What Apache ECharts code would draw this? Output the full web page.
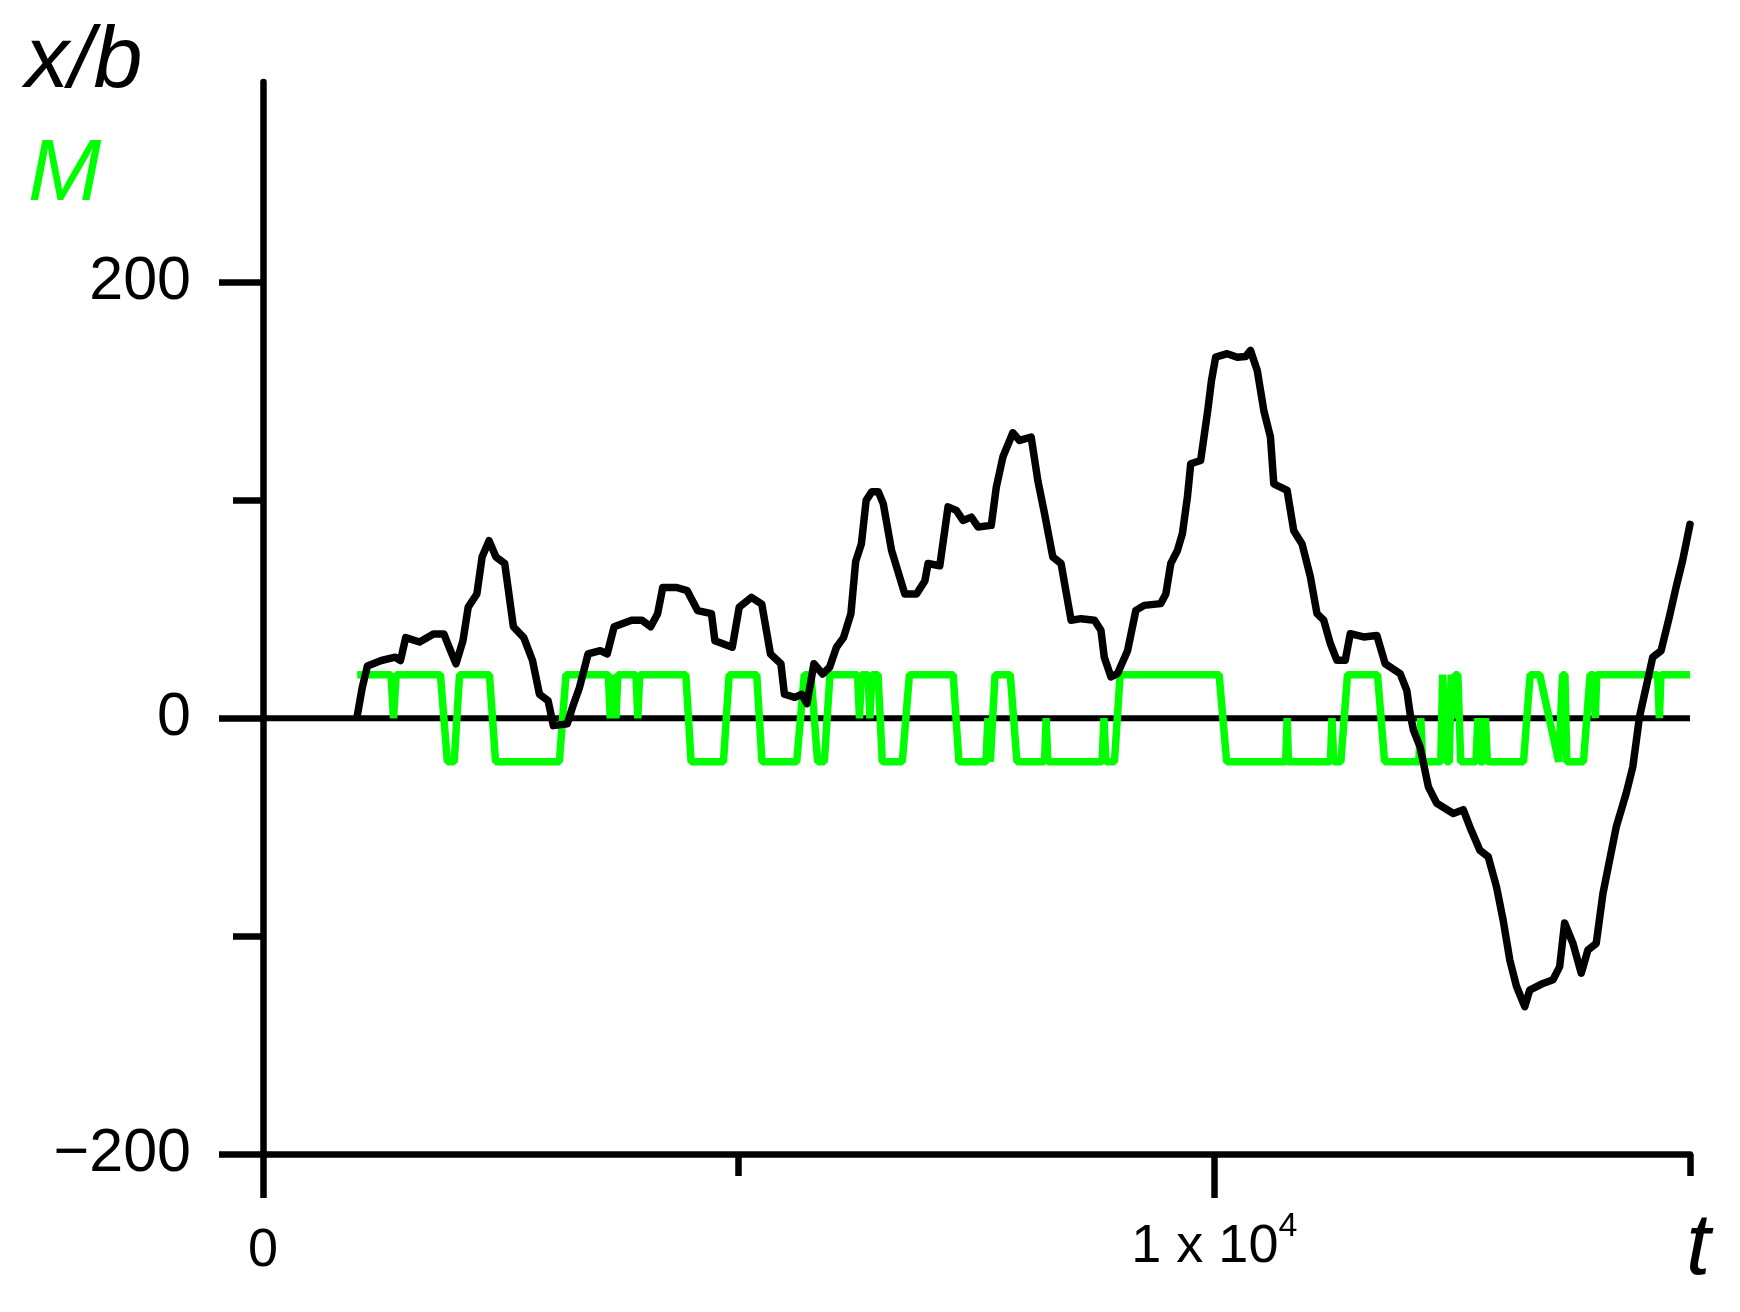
<!DOCTYPE html>
<html>
<head>
<meta charset="utf-8">
<script src="https://cdn.jsdelivr.net/npm/echarts@6/dist/echarts.min.js"></script>
<style>
html,body{margin:0;padding:0;background:#fff;}
#chart{width:1740px;height:1312px;}
</style>
</head>
<body>
<div id="chart"></div>
<script>
// ---- data (t, x/b) of the black trajectory ----
const trace = [
 [988,0.5],[1043,14],[1098,24],[1244,26.5],[1390,28],[1445,26.5],[1500,37],[1646,35],[1792,38.7],[1901,38.7],
 [1956,32.6],[2029,25],[2102,35.6],[2157,51],[2248,57],[2303,74],[2376,81.5],[2449,74],[2541,71],[2632,42],
 [2741,37],[2833,26.5],[2906,11],[2997,8],[3052,-3.4],[3198,-2.6],[3253,5],[3326,14],[3417,29.5],[3545,31],
 [3618,29.5],[3691,42],[3874,45],[3983,45],[4075,42],[4148,48],[4202,60],[4349,60],[4458,58.6],[4568,49.4],
 [4714,48],[4750,35.6],[4933,32.6],[5006,51],[5134,55.5],[5243,52.4],[5334,29.5],[5444,25],[5481,11],[5590,9.6],
 [5663,11],[5718,6.7],[5791,25],[5883,20.3],[5956,23.4],[6028,32.6],[6102,37],[6180,48],[6230,72],[6290,80],
 [6340,100],[6400,104],[6467,104],[6520,98.5],[6607,77],[6747,57],[6869,57],[6957,63],[6991,71],[7114,70],
 [7201,97],[7288,95.4],[7358,90.8],[7446,92.3],[7516,87.8],[7655,88.5],[7708,106],[7778,120],[7882,131],[7952,127.5],
 [8075,129],[8145,109],[8215,94],[8302,74],[8389,71],[8494,45],[8599,45.7],[8739,45],[8808,40.4],[8843,28],
 [8913,19],[8983,20.5],[9088,31],[9175,49.5],[9263,51.8],[9437,52.6],[9490,57],[9542,71],[9612,77],[9664,84.7],
 [9717,101.5],[9752,116.8],[9856,118.3],[9891,129],[9930,141],[9970,155],[10014,165.7],[10136,167.3],[10241,165.7],[10328,166],
 [10380,168.8],[10451,159.6],[10521,141],[10590,129],[10625,107.6],[10765,104.6],[10835,86],[10922,80],[11009,65],[11079,48],
 [11150,45],[11219,34.3],[11289,26.6],[11376,26.6],[11429,38.8],[11569,37.3],[11708,38],[11796,25],[11953,20.5],[12023,12.8],
 [12058,2],[12093,-5.5],[12163,-13.2],[12250,-31.5],[12338,-39],[12512,-43.7],[12617,-42],[12687,-50],[12791,-60.6],[12879,-63.6],
 [12966,-77.4],[13036,-92.7],[13106,-111],[13176,-123],[13263,-132.4],[13315,-124.8],[13455,-121.7],[13560,-120],[13630,-114],[13682,-94],
 [13770,-103.4],[13857,-117],[13927,-106.4],[14014,-103.4],[14085,-80.4],[14224,-50],[14329,-34.5],[14399,-22.3],[14469,0.6],[14539,14.4],
 [14608,28],[14696,31],[14783,46.5],[14853,60],[14923,72.5],[15000,89]
];
// ---- data (t, M) of the green three-state signal ----
const signalM = [
 [990,1],[1345,1],[1372,0],[1400,1],[1865,1],[1938,-1],[2010,-1],[2066,1],[2380,1],[2445,-1],
 [3115,-1],[3185,1],[3630,1],[3650,0],[3670,1],[3690,1],[3710,0],[3730,1],[3920,1],[3940,0],
 [3960,1],[4445,1],[4500,-1],[4840,-1],[4900,1],[5190,1],[5245,-1],[5610,-1],[5690,1],[5760,1],
 [5830,-1],[5900,-1],[5960,1],[6250,1],[6270,0],[6290,1],[6360,1],[6380,0],[6400,1],[6465,1],
 [6510,-1],[6720,-1],[6795,1],[7255,1],[7315,-1],[7600,-1],[7620,0],[7645,-1],[7655,-1],[7695,1],
 [7855,1],[7925,-1],[8215,-1],[8232,0],[8250,-1],[8820,-1],[8840,0],[8860,-1],[8950,-1],[9010,1],
 [10050,1],[10130,-1],[10750,-1],[10765,0],[10780,-1],[11220,-1],[11237,0],[11255,-1],[11330,-1],[11400,1],
 [11715,1],[11790,-1],[12150,-1],[12170,0],[12190,-1],[12380,-1],[12400,1],[12420,1],[12440,-1],[12470,-1],
 [12490,1],[12510,0],[12530,1],[12560,1],[12590,-1],[12750,-1],[12770,0],[12790,-1],[12830,-1],[12850,0],
 [12870,-1],[13250,-1],[13320,1],[13420,1],[13620,-1],[13640,-1],[13660,1],[13685,1],[13705,-1],[13880,-1],
 [13950,1],[13990,1],[14005,0],[14020,1],[14660,1],[14678,0],[14695,1],[15000,1]
];
// zero reference line
const zeroRef = [[0,0],[15000,0]];
// ticks / labels
const xMajorTicks = [0, 10000];
const xMinorTicks = [5000, 15000];
const yMajorTicks = [-200, 0, 200];
const yMinorTicks = [-100, 100];
const xRange = [0, 15000];
const yRange = [-200, 292];
const mScale = 20; // one unit of M drawn as 20 units of x/b

const FONT = '"Liberation Sans", Arial, sans-serif';
const chart = echarts.init(document.getElementById('chart'), null, {renderer: 'canvas'});

const axisLineStyle = {color: '#000', width: 6.5};

chart.setOption({
  animation: false,
  backgroundColor: '#fff',
  grid: {left: 263, right: 50, top: 82, bottom: 158, containLabel: false, outerBoundsMode: 'none'},
  xAxis: [
    {
      type: 'value', min: xRange[0], max: xRange[1], position: 'bottom',
      axisLine: {show: true, onZero: false, lineStyle: axisLineStyle},
      axisTick: {show: true, length: 44, customValues: xMajorTicks, lineStyle: axisLineStyle},
      axisLabel: {
        show: true, customValues: xMajorTicks, margin: 56, color: '#000',
        fontFamily: FONT, fontSize: 54,
        formatter: function (v) { return v === 0 ? '{z|0}' : '{a|1 x 10}{s|4}'; },
        rich: {
          z: {fontFamily: FONT, fontSize: 54, lineHeight: 82, color: '#000'},
          a: {fontFamily: FONT, fontSize: 54, lineHeight: 64, verticalAlign: 'bottom', color: '#000'},
          s: {fontFamily: FONT, fontSize: 34, lineHeight: 34, verticalAlign: 'top', padding: [0, 0, 50, 0], color: '#000'}
        }
      },
      splitLine: {show: false}
    },
    {
      type: 'value', min: xRange[0], max: xRange[1], position: 'bottom',
      axisLine: {show: false, onZero: false},
      axisTick: {show: true, length: 22, customValues: xMinorTicks, lineStyle: axisLineStyle},
      axisLabel: {show: false},
      splitLine: {show: false}
    }
  ],
  yAxis: [
    {
      type: 'value', min: yRange[0], max: yRange[1], position: 'left',
      axisLine: {show: true, onZero: false, lineStyle: axisLineStyle},
      axisTick: {show: true, length: 44, customValues: yMajorTicks, lineStyle: axisLineStyle},
      axisLabel: {
        show: true, customValues: yMajorTicks, margin: 72, color: '#000',
        fontFamily: FONT, fontSize: 61,
        formatter: function (v) { return v < 0 ? '\u2212' + Math.abs(v) : String(v); }
      },
      splitLine: {show: false}
    },
    {
      type: 'value', show: false, position: 'left',
      min: yRange[0] / mScale, max: yRange[1] / mScale,
      axisLine: {onZero: false}, splitLine: {show: false}
    },
    {
      type: 'value', min: yRange[0], max: yRange[1], position: 'left',
      axisLine: {show: false, onZero: false},
      axisTick: {show: true, length: 30, customValues: yMinorTicks, lineStyle: axisLineStyle},
      axisLabel: {show: false},
      splitLine: {show: false}
    }
  ],
  series: [
    {
      name: 'zero', type: 'line', xAxisIndex: 0, yAxisIndex: 0, data: zeroRef,
      symbol: 'none', silent: true, z: 1,
      lineStyle: {color: '#000', width: 6}
    },
    {
      name: 'M', type: 'line', xAxisIndex: 0, yAxisIndex: 1, data: signalM,
      symbol: 'none', silent: true, z: 2,
      lineStyle: {color: '#00ff00', width: 7.5}
    },
    {
      name: 'x/b', type: 'line', xAxisIndex: 0, yAxisIndex: 0, data: trace,
      symbol: 'none', silent: true, z: 3,
      lineStyle: {color: '#000', width: 7.5, join: 'round', cap: 'round'}
    }
  ],
  graphic: [
    {type: 'text', x: 25, y: 63, style: {text: 'x/b', font: 'italic 88px ' + FONT, fill: '#000', textAlign: 'left', textVerticalAlign: 'middle'}},
    {type: 'text', x: 28, y: 176, style: {text: 'M', font: 'italic 88px ' + FONT, fill: '#00ff00', textAlign: 'left', textVerticalAlign: 'middle'}},
    {type: 'text', x: 1686, y: 1250, style: {text: 't', font: 'italic 88px ' + FONT, fill: '#000', textAlign: 'left', textVerticalAlign: 'middle'}}
  ]
});
</script>
</body>
</html>
